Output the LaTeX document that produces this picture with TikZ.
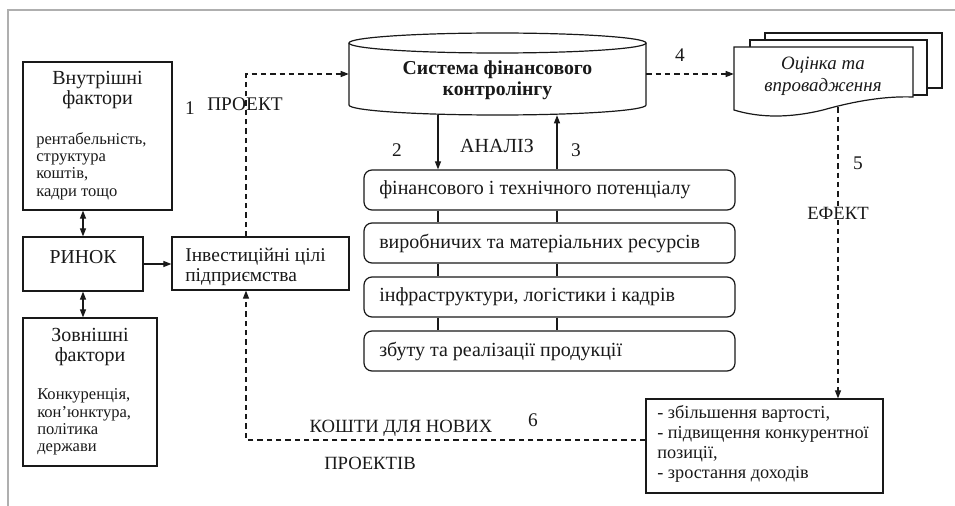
\documentclass[tikz,border=0pt]{standalone}
\usepackage{fontspec}
\setmainfont{Liberation Serif}
\usetikzlibrary{arrows.meta,fit}
\definecolor{framegray}{RGB}{175,175,175}
\definecolor{ink}{RGB}{25,25,25}
\begin{document}
\begin{tikzpicture}[x=0.75pt,y=-0.75pt,
  box/.style={draw=ink, line width=0.9pt, inner sep=0pt, fit={#1}},
  rbox/.style={draw=ink, line width=0.9pt, inner sep=0pt, rounded corners=6pt, fit={#1}},
  ghost/.style={inner sep=0pt, fit={#1}},
  conn/.style={draw=ink, line width=0.8pt},
  arr/.style={conn, -{Triangle[length=6pt,width=4.5pt]}},
  dbl/.style={conn, {Triangle[length=6pt,width=4.5pt]}-{Triangle[length=6pt,width=4.5pt]}},
  dsh/.style={dash pattern=on 4pt off 3pt},
  txt/.style={inner sep=0pt, text=ink, font=\fontsize{15}{17}\selectfont},
  head/.style={inner sep=0pt, text=ink, align=center, font=\fontsize{15}{15}\selectfont},
  small/.style={inner sep=0pt, text=ink, align=left, font=\fontsize{12.4}{13}\selectfont},
  lab/.style={inner sep=0pt, text=ink, font=\fontsize{14.5}{16}\selectfont}
]
\useasboundingbox (0,0) rectangle (955,506);
% frame
\draw[framegray, line width=1.5pt] (955,10) -- (8,10) -- (8,506);

% left boxes
\node[box={(23,62)(172,210)}] (vn) {};
\node[head] (vnh) at (97.5,90) {Внутрішні\\фактори};
\node[small, anchor=west] (vnb) at (36,166) {рентабельність,\\структура\\коштів,\\кадри тощо};

\node[box={(23,237)(143,291)}] (rynok) {};
\node[head, font=\fontsize{14.8}{15}\selectfont] (rynokt) at (83,257) {РИНОК};

\node[box={(23,318)(157,466)}] (zn) {};
\node[head] (znh) at (90,347) {Зовнішні\\фактори};
\node[small, anchor=west] (znb) at (37,422) {Конкуренція,\\кон’юнктура,\\політика\\держави};

\node[box={(172,237)(349,290)}] (inv) {};
\node[txt, align=left, anchor=west, font=\fontsize{14.6}{15}\selectfont] (invt) at (185,267) {Інвестиційні цілі\\підприємства};

% cylinder
\node[ghost={(349,33)(646,115)}] (cyl) {};
\draw[ink, line width=0.9pt, fill=white] (349,43) -- (349,105) .. controls (349,110.52) and (415.5,115) .. (497.5,115) .. controls (579.5,115) and (646,110.52) .. (646,105) -- (646,43);
\draw[ink, line width=0.9pt] (497.5,43) ellipse [x radius=148.5, y radius=10];
\node[txt, align=center, font=\bfseries\fontsize{14.8}{15.75}\selectfont] (cylt) at (497.5,80) {Система фінансового\\контролінгу};

% analysis boxes
\node[rbox={(364,170)(735,210)}] (r1) {};
\node[rbox={(364,223)(735,263)}] (r2) {};
\node[rbox={(364,277)(735,317)}] (r3) {};
\node[rbox={(364,331)(735,371)}] (r4) {};
\node[txt, anchor=west] (r1t) at (379,190) {фінансового і технічного потенціалу};
\node[txt, anchor=west] (r2t) at (379,243) {виробничих та матеріальних ресурсів};
\node[txt, anchor=west] (r3t) at (379,297) {інфраструктури, логістики і кадрів};
\node[txt, anchor=west] (r4t) at (379,351) {збуту та реалізації продукції};

% documents
\draw[ink, line width=0.9pt, fill=white] (765,33) rectangle (942,88);
\draw[ink, line width=0.9pt, fill=white] (750,40) rectangle (927,95);
\draw[ink, line width=0.9pt, fill=white] (734,47) -- (913,47) -- (913,97) .. controls (885,96) and (855,101) .. (823,110) .. controls (790,118) and (760,118) .. (734,110) -- cycle;
\node[ghost={(734,47)(913,107)}] (doc) {};
\node[txt, align=center, font=\itshape\fontsize{14.2}{16.5}\selectfont] (doct) at (823,76) {Оцінка та\\впровадження};

% result box
\node[box={(646,399)(883,493)}] (res) {};
\node[txt, align=left, anchor=west, font=\fontsize{13.7}{14.8}\selectfont] (rest) at (657,444) {- збільшення вартості,\\- підвищення конкурентної\\позиції,\\- зростання доходів};

% helper coordinates
\coordinate (xa) at (246,0);
\coordinate (xb) at (438,0);
\coordinate (xc) at (557,0);
\coordinate (xd) at (838,0);
\coordinate (ya) at (0,440);

% connectors
\draw[dbl] (vn.south -| rynok.north) -- (rynok.north);
\draw[dbl] (rynok.south) -- (zn.north -| rynok.south);
\draw[arr] (rynok.east |- 0,264) -- (inv.west |- 0,264);
\draw[arr, dsh] (inv.north -| xa) |- (cyl.west);
\draw[arr] (cyl.south -| xb) -- (r1.north -| xb);
\draw[arr] (r1.north -| xc) -- (cyl.south -| xc);
\draw[conn] (r1.south -| xb) -- (r2.north -| xb);
\draw[conn] (r1.south -| xc) -- (r2.north -| xc);
\draw[conn] (r2.south -| xb) -- (r3.north -| xb);
\draw[conn] (r2.south -| xc) -- (r3.north -| xc);
\draw[conn] (r3.south -| xb) -- (r4.north -| xb);
\draw[conn] (r3.south -| xc) -- (r4.north -| xc);
\draw[arr, dsh] (cyl.east) -- (cyl.east -| doc.west);
\draw[arr, dsh] (doc.south -| xd) -- (res.north -| xd);
\draw[arr, dsh] (res.west |- ya) -| (inv.south -| xa);

% labels
\node[lab] (l1) at (190,108) {1};
\node[lab] (lp) at (245,104) {ПРОЕКТ};
\node[lab] (l2) at (397,150) {2};
\node[lab, font=\fontsize{15}{16}\selectfont] (la) at (497,146) {АНАЛІЗ};
\node[lab] (l3) at (576,150) {3};
\node[lab] (l4) at (680,55) {4};
\node[lab] (l5) at (858,163) {5};
\node[lab, fill=white, inner sep=1pt, font=\fontsize{14}{16}\selectfont] (le) at (838,213) {ЕФЕКТ};
\node[lab] (l6) at (533,420) {6};
\node[lab, font=\fontsize{14}{15}\selectfont] (lk) at (401,428) {КОШТИ ДЛЯ НОВИХ};
\node[lab, font=\fontsize{14}{15}\selectfont] (lpr) at (370,463) {ПРОЕКТІВ};
\end{tikzpicture}
\end{document}
